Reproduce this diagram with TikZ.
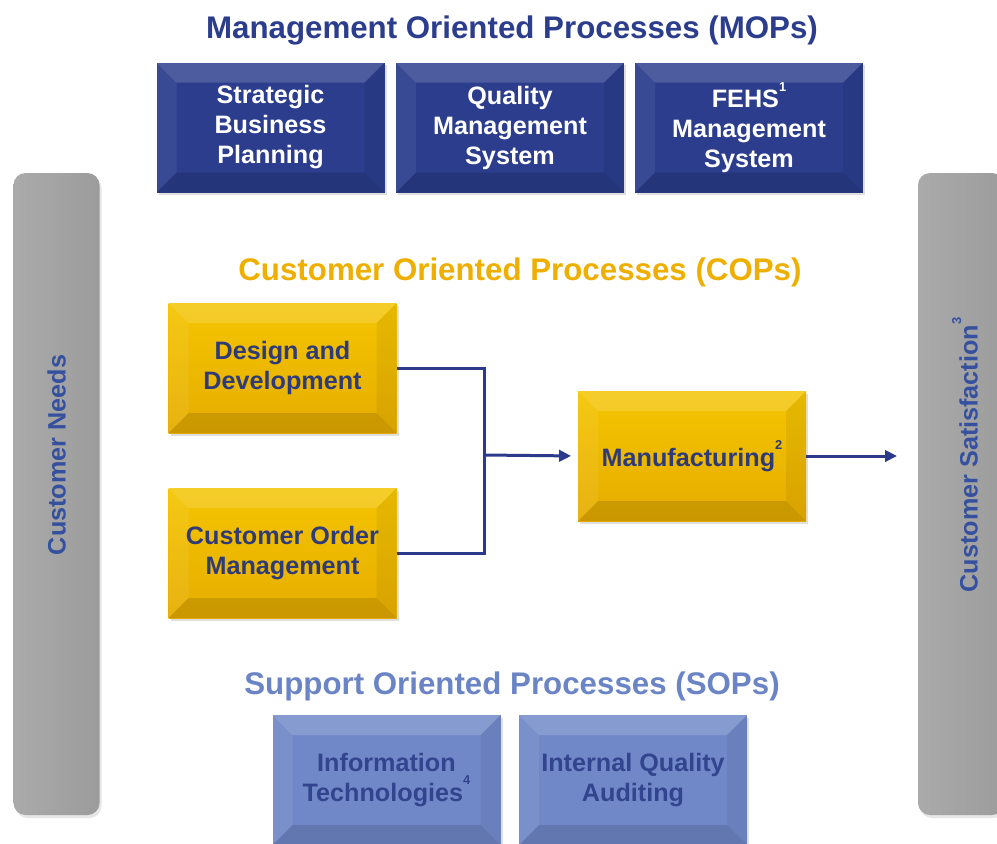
\documentclass[tikz,border=0pt]{standalone}
\usepackage{fontspec}
\setmainfont{Liberation Sans}
\usetikzlibrary{arrows.meta,shadows}

\definecolor{mopblue}{HTML}{2B3D8C}
\definecolor{copgold}{HTML}{F2B600}
\definecolor{coptitle}{HTML}{EFAF00}
\definecolor{copink}{HTML}{2E3B78}
\definecolor{sopblue}{HTML}{7088C8}
\definecolor{soptitle}{HTML}{6A84C6}
\definecolor{sopink}{HTML}{32448E}
\definecolor{bargray}{HTML}{A6A6A6}
\definecolor{barink}{HTML}{34509E}
\definecolor{linkblue}{HTML}{2B3A8A}

\newlength\bev
\setlength\bev{6mm}
\newcommand\fn[1]{\raisebox{1.25ex}{\fontsize{11}{11}\selectfont #1}}

\tikzset{
	facets/.style={
		path picture={
			\fill[white,opacity=.16] (path picture bounding box.north west) -- (path picture bounding box.north east)
				-- ([xshift=-\bev,yshift=-\bev]path picture bounding box.north east) -- ([xshift=\bev,yshift=-\bev]path picture bounding box.north west) -- cycle;
			\fill[white,opacity=.07] (path picture bounding box.north west) -- (path picture bounding box.south west)
				-- ([xshift=\bev,yshift=\bev]path picture bounding box.south west) -- ([xshift=\bev,yshift=-\bev]path picture bounding box.north west) -- cycle;
			\fill[black,opacity=.06] (path picture bounding box.north east) -- (path picture bounding box.south east)
				-- ([xshift=-\bev,yshift=\bev]path picture bounding box.south east) -- ([xshift=-\bev,yshift=-\bev]path picture bounding box.north east) -- cycle;
			\fill[black,opacity=.12] (path picture bounding box.south west) -- (path picture bounding box.south east)
				-- ([xshift=-\bev,yshift=\bev]path picture bounding box.south east) -- ([xshift=\bev,yshift=\bev]path picture bounding box.south west) -- cycle;
		}
	},
	proc/.style={rectangle, minimum width=68.4mm, minimum height=39mm, align=center,
		font=\fontsize{21.5}{25.6}\selectfont\bfseries,
		drop shadow={shadow xshift=.6mm, shadow yshift=-.8mm, opacity=.25}, facets},
	mop/.style={proc, fill=mopblue, text=white},
	cop/.style={proc, top color=copgold!80!yellow, bottom color=copgold!95!black, text=copink},
	sop/.style={proc, fill=sopblue, text=sopink},
	title/.style={font=\fontsize{26.7}{30}\selectfont\bfseries},
	bar/.style={rectangle, rounded corners=3.6mm, minimum width=25.8mm, minimum height=192.6mm,
		left color=bargray!95!white, right color=bargray!94!black,
		drop shadow={shadow xshift=.6mm, shadow yshift=-.9mm, opacity=.2}},
	barlabel/.style={rotate=90, text=barink, font=\fontsize{21.5}{25.6}\selectfont\bfseries},
	flow/.style={draw=linkblue, line width=.9mm},
}

\begin{document}
\begin{tikzpicture}[x=0.3mm, y=-0.3mm]
	\clip (0,0) rectangle (997,844);

	% side bars
	\node[bar] (needsbar) at (56.5,494) {};
	\node[barlabel] (needs) at (56.5,455) {Customer Needs};
	\node[bar] (satbar) at (961,494) {};
	\node[barlabel] (sat) at (965,455) {Customer Satisfaction\fn{3}};

	% management
	\node[title, text=mopblue] (moptitle) at (512,30) {Management Oriented Processes (MOPs)};
	\node[mop] (sbp) at (270.5,127.5) {Strategic\\Business\\Planning};
	\node[mop] (qms) at (510,127.5) {Quality\\Management\\System};
	\node[mop] (fehs) at (749,127.5) {FEHS\fn{1}\\Management\\System};

	% customer
	\node[title, text=coptitle] (coptitle) at (520,272) {Customer Oriented Processes (COPs)};
	\node[cop] (dd) at (282.5,368) {Design and\\Development};
	\node[cop] (com) at (282.5,553) {Customer Order\\Management};
	\node[cop] (manu) at (692,456) {Manufacturing\fn{2}};

	% support
	\node[title, text=soptitle] (soptitle) at (512,686) {Support Oriented Processes (SOPs)};
	\node[sop] (it) at (386.5,780) {Information\\Technologies\fn{4}};
	\node[sop] (iqa) at (633,780) {Internal Quality\\Auditing};

	\coordinate (join) at (484,455);
	\coordinate (out) at (897,456);
	\draw[flow] (dd.east) -| (join);
	\draw[flow] (com.east) -| (join);
	\draw[flow, -{Triangle[length=3.6mm,width=3.4mm]}, shorten >=2mm] (join) -- (manu.west);
	\draw[flow, -{Triangle[length=3.6mm,width=3.4mm]}] (manu.east) -- (out);
\end{tikzpicture}
\end{document}
